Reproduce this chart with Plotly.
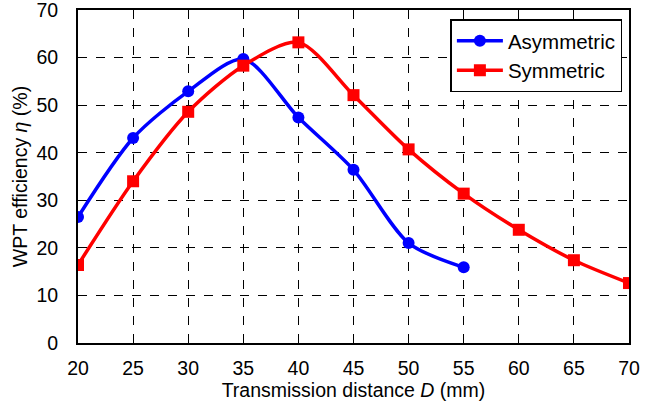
import plotly.graph_objects as go

dist_asym = [20, 25, 30, 35, 40, 45, 50, 55]
eff_asym = [26.5, 43.1, 52.9, 59.7, 47.4, 36.4, 21.0, 15.9]
dist_sym = [20, 25, 30, 35, 40, 45, 50, 55, 60, 65, 70]
eff_sym = [16.4, 34.0, 48.6, 58.3, 63.2, 52.1, 40.7, 31.4, 23.8, 17.4, 12.6]
x_ticks = [20, 25, 30, 35, 40, 45, 50, 55, 60, 65, 70]
y_ticks = [0, 10, 20, 30, 40, 50, 60, 70]

font_family = "Liberation Sans, Arial, sans-serif"

fig = go.Figure()
fig.add_trace(go.Scatter(
    x=dist_asym, y=eff_asym, name="Asymmetric", mode="lines+markers",
    legendgroup="a",
    line=dict(color="#0000FF", width=3.5, shape="spline", smoothing=0.8),
    marker=dict(symbol="circle", size=12, color="#0000FF"),
))
fig.add_trace(go.Scatter(
    x=dist_sym, y=eff_sym, name="Symmetric", mode="lines+markers",
    legendgroup="s",
    line=dict(color="#FF0000", width=3.5, shape="spline", smoothing=0.8),
    marker=dict(symbol="square", size=12, color="#FF0000"),
))

fig.update_layout(
    width=657, height=408,
    margin=dict(l=78, r=28, t=10, b=65, autoexpand=False),
    paper_bgcolor="white", plot_bgcolor="white",
    font=dict(family=font_family, size=20, color="black"),
    showlegend=True,
    legend=dict(
        x=0.988, y=0.972, xanchor="right", yanchor="top",
        bordercolor="black", borderwidth=1.5, bgcolor="white",
        font=dict(size=20.5), tracegroupgap=0, itemwidth=46,
    ),
)
fig.update_xaxes(
    range=[20, 70], tickvals=x_ticks, ticktext=[str(v) for v in x_ticks],
    showgrid=True, gridcolor="black", griddash="dash", gridwidth=1,
    showline=True, linecolor="black", linewidth=2, mirror=True,
    zeroline=False, ticks="outside", ticklen=7, tickcolor="rgba(0,0,0,0)",
    tickfont=dict(size=19.5), automargin=False, ticklabeloverflow="allow",
    title=dict(text="Transmission distance <i>D</i> (mm)", font=dict(size=19.5), standoff=2),
)
fig.update_yaxes(
    range=[0, 70], tickvals=y_ticks, ticktext=[str(v) for v in y_ticks],
    showgrid=True, gridcolor="black", griddash="dash", gridwidth=1,
    showline=True, linecolor="black", linewidth=2, mirror=True,
    zeroline=False, ticks="outside", ticklen=14, tickcolor="rgba(0,0,0,0)",
    tickfont=dict(size=19.5), automargin=False, ticklabeloverflow="allow",
    title=dict(text="WPT efficiency <i>η</i> (%)", font=dict(size=19.5), standoff=4),
)

fig.write_html("out.html", config={"displayModeBar": False},
               post_script="document.body.style.margin='0px';")
